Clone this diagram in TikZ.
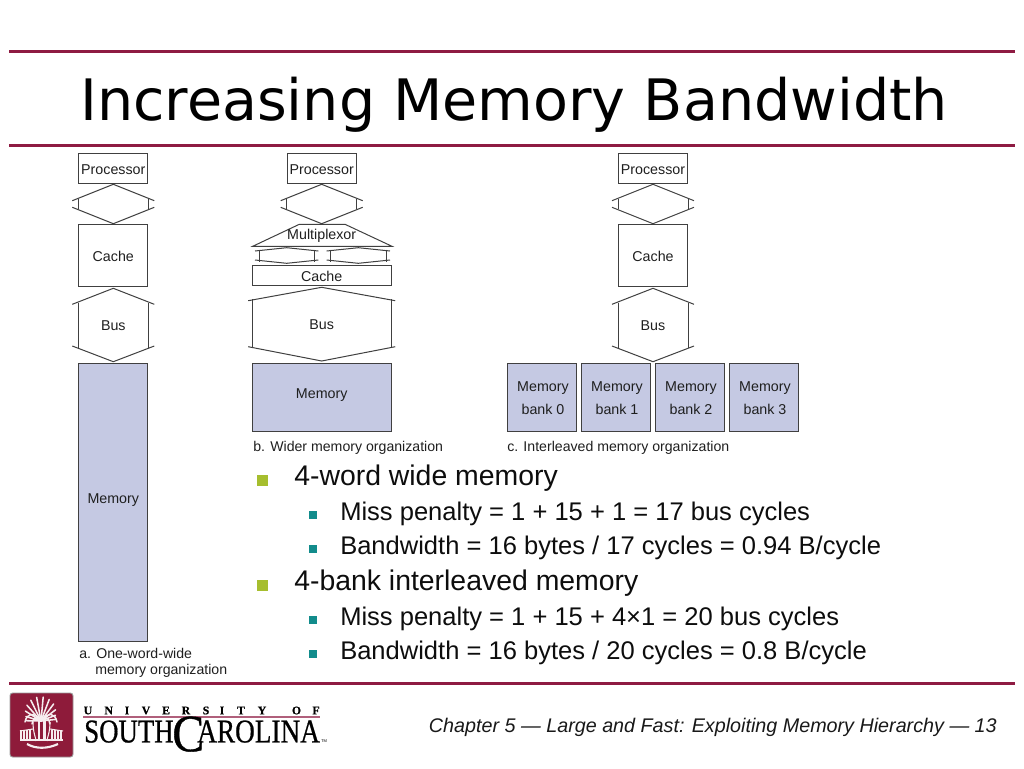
\documentclass[tikz,border=0pt]{standalone}
\usepackage{fontspec}
\setmainfont{Liberation Sans}
\newfontfamily\titlefont{DejaVu Sans}
\newfontfamily\logofont[FakeBold=0.7]{Liberation Serif}
\definecolor{rail}{HTML}{8E1B42}
\definecolor{memfill}{HTML}{C5C9E3}
\definecolor{boxline}{HTML}{404040}
\definecolor{bulA}{HTML}{A6BE2E}
\definecolor{bulB}{HTML}{128C8C}
\definecolor{seal}{HTML}{8E1B3A}
\newcommand{\fs}[1]{\fontsize{#1}{#1}\selectfont}
\tikzset{
  x=0.75pt,y=-0.75pt,
  railline/.style={rail,line width=2.25pt},
  blk/.style={draw=boxline,line width=0.75pt,inner sep=0,outer sep=0,font=\fs{10.7}\color{black!88},align=center},
  mem/.style={blk,fill=memfill},
  wire/.style={draw=boxline,line width=0.75pt},
  lbl/.style={font=\fs{10.7}\color{black!88},inner sep=0},
  capt/.style={anchor=west,inner sep=0,font=\fs{10.6}\color{black!88}},
  lvlA/.style={anchor=west,inner sep=0,font=\fs{21.3}\color{black!95}},
  lvlB/.style={anchor=west,inner sep=0,font=\fs{19.15}\color{black!95}},
  uniletter/.style={inner sep=0,font=\logofont\bfseries\fs{8.8}},
  wordmark/.style={anchor=south west,inner sep=0,font=\logofont},
  frond/.style={white!92!seal,line width=1.15pt,line cap=round},
  sealline/.style={white!92!seal,line width=0.8pt},
}
\newcommand{\busshape}[7]{%
  \draw[wire] (#1-#3,#5) -- (#1,#4) -- (#1+#3,#5);
  \draw[wire] (#1-#3,#6) -- (#1,#7) -- (#1+#3,#6);
  \draw[wire] (#1-#2,#5-1.5) -- (#1-#2,#6+1.5);
  \draw[wire] (#1+#2,#5-1.5) -- (#1+#2,#6+1.5);
}
\begin{document}
\begin{tikzpicture}
\useasboundingbox (0,0) rectangle (1024,768);
\fill[white] (0,0) rectangle (1024,768);
% rails
\draw[railline] (9,51) -- (1015,51);
\draw[railline] (9,145) -- (1015,145);
\draw[railline] (9,683) -- (1015,683);
\node[anchor=west,inner sep=0,font=\titlefont\fs{42.85}] (title) at (80,105) {Increasing Memory Bandwidth};

% column a
\node[blk,minimum width=52pt,minimum height=22.8pt] (pa) at (113.3,168.5) {};
\node[lbl] (pal) at (113.3,169.5) {Processor};
\busshape{113.3}{35}{41}{184.3}{200.7}{207.3}{223.7}
\node[blk,minimum width=52pt,minimum height=47pt] (ca) at (113.3,255.5) {};
\node[lbl] (cal) at (113.3,256) {Cache};
\busshape{113.3}{35}{41}{288.3}{304.3}{346}{361.7}
\node[lbl] (ba) at (113.3,325.5) {Bus};
\node[mem,minimum width=52pt,minimum height=209pt] (ma) at (113.3,502.5) {};
\node[lbl] (mal) at (113.3,500) {Memory};
\node[capt] (capa1) at (79,653.5) {a. One-word-wide};
\node[capt] (capa2) at (95,671) {memory organization};

% column b
\node[blk,minimum width=52pt,minimum height=22.8pt] (pb) at (321.7,168.5) {};
\node[lbl] (pbl) at (321.7,169.5) {Processor};
\busshape{321.7}{35}{41}{184.3}{200.7}{207.3}{223.7}
\draw[wire] (252.7,246.3) -- (299.3,224.3) -- (345,224.3) -- (392,246.3) -- cycle;
\node[lbl] (mx) at (321.7,235.5) {Multiplexor};
\busshape{286.7}{27.7}{31.7}{247.7}{251}{260}{263.3}
\busshape{358.3}{27.7}{31.7}{247.7}{251}{260}{263.3}
\node[blk,minimum width=104pt,minimum height=15.5pt] (cb) at (322.3,275.5) {};
\node[lbl] (cbl) at (321.7,276) {Cache};
\busshape{321.7}{69.7}{73.5}{287.3}{300.7}{346.7}{361}
\node[lbl] (bb) at (321.7,325) {Bus};
\node[mem,minimum width=104pt,minimum height=51.7pt] (mb) at (322.3,397.5) {};
\node[lbl] (mbl) at (321.7,395.5) {Memory};
\node[capt] (capb) at (253,448) {b. Wider memory organization};

% column c
\node[blk,minimum width=52pt,minimum height=22.8pt] (pc) at (653,168.5) {};
\node[lbl] (pcl) at (653,169.5) {Processor};
\busshape{653}{35}{41}{184.3}{200.7}{207.3}{223.7}
\node[blk,minimum width=52pt,minimum height=47pt] (cc) at (653,255.5) {};
\node[lbl] (ccl) at (653,256) {Cache};
\busshape{653}{35}{41}{288.3}{304.3}{346}{361.7}
\node[lbl] (bc) at (653,325.5) {Bus};
\node[mem,minimum width=52pt,minimum height=51.7pt] (m0) at (542,397.5) {};
\node[mem,minimum width=52pt,minimum height=51.7pt] (m1) at (616,397.5) {};
\node[mem,minimum width=52pt,minimum height=51.7pt] (m2) at (690,397.5) {};
\node[mem,minimum width=52pt,minimum height=51.7pt] (m3) at (764,397.5) {};
\foreach \n/\x/\k in {a/543/0,b/617/1,c/691/2,d/765/3}{
  \node[lbl] (bt\n) at (\x,388) {Memory};
  \node[lbl] (bk\n) at (\x,409) {bank \k};
}
\node[capt] (capc) at (507,448) {c. Interleaved memory organization};

% bullets
\foreach \y in {480,585}{\fill[bulA] (257,\y-5.5) rectangle (268,\y+5.5);}
\foreach \y in {514.5,549,619.5,653.5}{\fill[bulB] (308.5,\y-4) rectangle (316.5,\y+4);}
\node[lvlA] (t1) at (294,478.5) {4-word wide memory};
\node[lvlB] (t2) at (340,513.5) {Miss penalty = 1 + 15 + 1 = 17 bus cycles};
\node[lvlB] (t3) at (340,547.5) {Bandwidth = 16 bytes / 17 cycles = 0.94 B/cycle};
\node[lvlA] (t4) at (294,583.5) {4-bank interleaved memory};
\node[lvlB] (t5) at (340,618.5) {Miss penalty = 1 + 15 + 4×1 = 20 bus cycles};
\node[lvlB] (t6) at (340,652.5) {Bandwidth = 16 bytes / 20 cycles = 0.8 B/cycle};

% footer
\node[anchor=east,inner sep=0,font=\fs{14.8}\itshape\color{black!90}] (foot) at (997,727) {Chapter 5 — Large and Fast: Exploiting Memory Hierarchy — 13};

% logo seal
\fill[seal,draw=black!40,line width=0.7pt,rounded corners=2pt] (10,693) rectangle (73,757);
\foreach \a/\r in {-175/15,-160/16,-145/19,-130/22,-115/24,-100/25,-85/25,-70/24,-55/22,-40/19,-25/16,-10/15}{
  \draw[frond] (41,721) -- ({41+\r*cos(\a)},{722+\r*sin(\a)});
}
\foreach \s in {-1,1}{
  \draw[frond] (41,720) .. controls ({41+\s*8},{712}) and ({41+\s*14},{713}) .. ({41+\s*16},{722});
  \draw[frond] (41,720) .. controls ({41+\s*5},{716}) and ({41+\s*8},{718}) .. ({41+\s*9},{724});
}
\fill[white!92!seal] (37.5,721) rectangle (40,741);
\fill[white!92!seal] (43,721) rectangle (45.5,741);
\draw[sealline] (33,722) .. controls (33,733) and (36,738) .. (36,741);
\draw[sealline] (50,722) .. controls (50,733) and (47,738) .. (47,741);
\foreach \x in {21,24,27,30,52,55,58,61}{\draw[sealline] (\x,730) -- (\x,740);}
\draw[sealline] (20,731) -- (33,729);
\draw[sealline] (50,729) -- (63,731);
\draw[sealline] (20,740) -- (63,740);
\draw[white!92!seal,line width=1.6pt] (27,744) .. controls (36,749) and (47,749) .. (58,744);
% logo wordmark
\foreach \n/\x/\c in {a/88/U,b/108.7/N,c/127/I,d/146/V,e/166/E,f/186/R,g/206/S,h/222/I,i/241/T,j/262/Y,k/296.5/O,l/316/F}{
  \node[uniletter] (uni\n) at (\x,710.5) {\c};
}
\draw[rail!70!white,line width=0.8pt] (83,717) -- (320,717);
\coordinate (wm1) at (84,743);
\coordinate (wm2) at (172,752);
\coordinate (wm3) at (197,743);
\node[wordmark] (south) at (wm1) {\resizebox{67pt}{16.5pt}{SOUTH}};
\node[wordmark] (bigc) at (wm2) {\resizebox{24pt}{26pt}{C}};
\node[wordmark] (arolina) at (wm3) {\resizebox{92pt}{16.5pt}{AROLINA}};
\node[anchor=south west,inner sep=0,font=\fs{3}] (tm) at (321,743) {TM};
\end{tikzpicture}
\end{document}
